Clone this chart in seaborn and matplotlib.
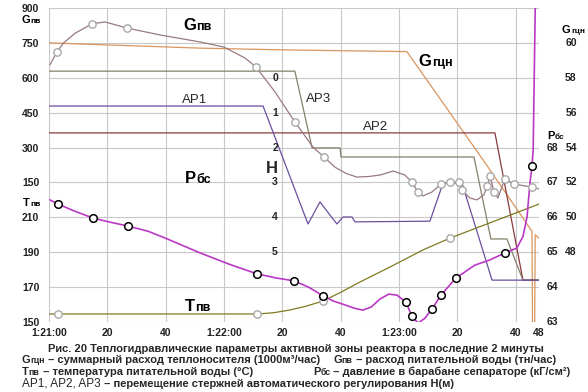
import numpy as np
import pandas as pd
import matplotlib
matplotlib.use("Agg")
import matplotlib.pyplot as plt
import seaborn as sns

# ---------------- data (time: seconds after 1:21:00) ----------------
# Feedwater flow G_пв (t/h)
gpv_t = [0.3, 2.7, 5.0, 8.9, 14.7, 19.2, 26.7, 38.1, 51.8, 60.0, 67.2, 71.0, 77.5, 84.3, 90.5, 94.3, 98.0,
         102.0, 105.6, 110.0, 113.5, 118.0, 122.0, 124.4, 126.5, 128.2, 131.3, 134.4, 137.5, 140.6, 141.6, 144.3,
         146.7, 149.1, 150.2, 151.2, 152.6, 153.9, 156.3, 159.4, 165.6, 168.0]
gpv_v = [655, 711, 750, 791, 832, 840, 814, 784, 754, 732, 685, 646, 539, 410, 302, 259, 216,
         188, 173, 176, 182, 199, 182, 152, 109, 92, 109, 143, 152, 152, 117, 83,
         75, 96, 134, 178, 109, 83, 165, 143, 130, 122]
gpv_mk_t = [2.7, 14.7, 26.7, 71.0, 84.3, 94.3, 124.4, 126.5, 134.4, 137.5, 140.6, 141.6, 150.2,
            151.2, 152.6, 156.3, 159.4, 165.6]
gpv_mk_v = [711, 832, 814, 646, 410, 259, 152, 109, 143, 152, 152, 117, 134, 178, 109, 165, 143, 130]

# Main circulation pump flow G_гцн (1000 m3/h)
ggcn_t = [0, 51.8, 80.0, 122.7, 148.8, 165.6, 165.8, 166.5, 166.7, 168.0]
ggcn_v = [60.0, 59.7, 59.6, 59.5, 53.3, 49.2, 43.0, 43.0, 49.0, 48.8]

# Control rods position H (m)
ap1_t = [0, 73.4, 88.8, 92.9, 98.7, 100.8, 103.9, 104.9, 130.6, 135.1, 141.6, 151.9, 168.0]
ap1_v = [0.81, 0.81, 4.19, 3.56, 4.19, 3.99, 3.99, 4.13, 4.11, 3.02, 3.02, 5.80, 5.80]
ap2_t = [0, 152.9, 162.5, 168.0]
ap2_v = [1.58, 1.58, 5.80, 5.80]
ap3_t = [0, 84.3, 90.2, 99.8, 100.1, 145.7, 151.5, 157.0, 162.5, 168.0]
ap3_v = [-0.19, -0.19, 2.01, 2.01, 2.27, 2.27, 4.62, 4.62, 5.80, 5.80]

# Drum separator pressure P_бс (kgf/cm2)
pbs_t = [0.3, 3.1, 9.0, 15.1, 21.0, 27.1, 34.0, 40.0, 51.8, 62.0, 71.3, 78.0, 84.0, 89.0, 93.9, 97.5,
         101.5, 104.5, 107.6, 110.5, 113.5, 116.5, 119.3, 122.4, 124.4, 126.5, 128.8, 131.3, 134.4,
         139.5, 146.0, 151.2, 156.3, 160.4, 162.5, 163.9, 164.9, 165.6, 166.0, 166.8]
pbs_v = [66.50, 66.38, 66.17, 65.98, 65.86, 65.75, 65.60, 65.40, 64.98, 64.65, 64.38, 64.26, 64.18,
         64.00, 63.75, 63.60, 63.49, 63.40, 63.34, 63.43, 63.66, 63.80, 63.77, 63.57,
         63.17, 62.97, 63.10, 63.37, 63.77, 64.26, 64.63, 64.78, 64.98, 65.12, 65.45, 66.01,
         66.98, 67.47, 67.93, 72.5]
pbs_mk_t = [3.1, 15.1, 27.1, 71.3, 84.0, 93.9, 122.4, 124.4, 131.3, 134.4, 139.5, 156.3, 165.6]
pbs_mk_v = [66.38, 65.98, 65.75, 64.38, 64.18, 63.75, 63.57, 63.17, 63.37, 63.77, 64.26, 64.98, 67.47]

# Feedwater temperature T_пв (°C)
tpv_t = [0, 3.1, 71.3, 77.0, 82.6, 88.0, 93.9, 100.0, 106.6, 116.9, 128.2, 137.5, 168.0]
tpv_v = [154.6, 154.6, 154.6, 155.3, 156.9, 159.0, 162.0, 167.0, 172.9, 181.5, 191.3, 198.1, 217.6]
tpv_mk_t = [3.1, 71.3, 93.9, 137.5]
tpv_mk_v = [154.6, 154.6, 162.0, 198.1]

# axis tick labels
x_ticks = [0, 20, 40, 60, 80, 100, 120, 140, 160, 168]
x_labels = ["1:21:00", "20", "40", "1:22:00", "20", "40", "1:23:00", "20", "40", "48"]
left_labels = ["150", "170", "190", "210", "150", "300", "450", "600", "750", "900"]
pbs_labels = ["63", "64", "65", "66", "67", "68"]
ggcn_labels = ["48", "50", "52", "54", "56", "58", "60"]
h_labels = ["0", "1", "2", "3", "4", "5"]

# ---------------- scale conversions to common grid units (0..9) ----------------
def u_gpv(v): return np.asarray(v) / 150.0 + 3
def u_tpv(v): return (np.asarray(v) - 150.0) / 20.0
def u_pbs(v): return np.asarray(v) - 63.0
def u_ggcn(v): return (np.asarray(v) - 44.0) / 2.0
def u_h(v): return 7.0 - np.asarray(v)

sns.set_theme(style="white")
plt.rcParams["font.family"] = ["Liberation Sans", "DejaVu Sans"]

fig = plt.figure(figsize=(5.88, 3.92), dpi=100)
ax = fig.add_axes([49 / 588, 1 - 322 / 392, 490 / 588, 314 / 392])

colors = {
    "Gгцн": "#d9955e",
    "AP2": "#8b3b3b",
    "AP3": "#85806a",
    "AP1": "#6b4f9e",
    "Tпв": "#7f7a1f",
    "Gпв": "#997a80",
    "Pбс": "#bb38c6",
}

frames = []
for name, t, u in [
    ("Gгцн", ggcn_t, u_ggcn(ggcn_v)),
    ("AP2", ap2_t, u_h(ap2_v)),
    ("AP3", ap3_t, u_h(ap3_v)),
    ("AP1", ap1_t, u_h(ap1_v)),
    ("Tпв", tpv_t, u_tpv(tpv_v)),
    ("Gпв", gpv_t, u_gpv(gpv_v)),
    ("Pбс", pbs_t, u_pbs(pbs_v)),
]:
    frames.append(pd.DataFrame({"t": t, "u": u, "s": name}))
df = pd.concat(frames, ignore_index=True)

sns.lineplot(data=df, x="t", y="u", hue="s", palette=colors, sort=False,
             estimator=None, legend=False, ax=ax, linewidth=0.9)
for line in ax.get_lines():
    line.set_solid_joinstyle("round")
    if line.get_color() == "#bb38c6":
        line.set_linewidth(1.2)

sns.scatterplot(x=gpv_mk_t, y=u_gpv(gpv_mk_v), ax=ax, s=28, facecolor="white",
                edgecolor="#a8a8a8", linewidth=1.0, zorder=5)
sns.scatterplot(x=tpv_mk_t, y=u_tpv(tpv_mk_v), ax=ax, s=28, facecolor="white",
                edgecolor="#a8a8a8", linewidth=1.0, zorder=5)
sns.scatterplot(x=pbs_mk_t, y=u_pbs(pbs_mk_v), ax=ax, s=30, facecolor="white",
                edgecolor="black", linewidth=1.1, zorder=6)

ax.set_xlim(0, 168)
ax.set_ylim(0, 9)
ax.set_xticks(x_ticks)
ax.set_xticklabels(x_labels, fontsize=7.5, fontweight="bold", color="#222222")
ax.set_yticks(range(10))
ax.set_yticklabels(left_labels, fontsize=7.5, fontweight="bold", color="#222222")
ax.tick_params(axis="both", length=0, pad=4)
ax.tick_params(axis="y", pad=7)
ax.grid(True, color="#c8c8c8", linewidth=0.8)
ax.set_axisbelow(True)
for sp in ax.spines.values():
    sp.set_visible(False)
ax.set_xlabel("")
ax.set_ylabel("")

yt = ax.get_yaxis_transform()


def px_x(p):  # figure pixel x -> axes fraction
    return (p - 49) / 490.0


def mixed(x, y, big, small, bs, ss, transform, weight="bold"):
    t1 = ax.text(x, y, big, fontsize=bs, fontweight=weight, ha="left",
                 va="baseline", transform=transform, color="black")
    ax.annotate(small, xy=(1, 0.22), xycoords=t1, xytext=(0.3, 0),
                textcoords="offset points", fontsize=ss, fontweight=weight,
                ha="left", va="baseline", color="black")


# right side scales
for i, lab in enumerate(pbs_labels):
    ax.text(px_x(552), i, lab, transform=yt, ha="center", va="center",
            fontsize=7.5, fontweight="bold", color="#222222")
for i, lab in enumerate(ggcn_labels):
    ax.text(px_x(571), i + 2, lab, transform=yt, ha="center", va="center",
            fontsize=7.5, fontweight="bold", color="#222222")
mixed(px_x(562), 8.27, "G", "гцн", 8, 6, yt)
mixed(px_x(547), 5.25, "P", "бс", 8, 6, yt)
# left extra labels
mixed(px_x(21), 8.56, "G", "пв", 8, 6, yt)
mixed(px_x(23), 3.33, "T", "пв", 8, 6, yt)

# H scale inside plot
for i, lab in enumerate(h_labels):
    ax.text(77.5, 7 - i, lab, ha="center", va="center", fontsize=7.5,
            fontweight="bold", color="#222222")
ax.text(74.4, 4.27, "H", fontsize=12, fontweight="bold", ha="left", va="baseline")

# series labels
mixed(45.9, 8.37, "G", "пв", 12, 9, ax.transData)
mixed(126.8, 7.34, "G", "гцн", 12, 9, ax.transData)
mixed(46.6, 3.98, "P", "бс", 12, 9, ax.transData)
mixed(46.6, 0.315, "T", "пв", 12, 9, ax.transData)
ax.text(45.6, 6.28, "AP1", fontsize=9.5, ha="left", va="baseline")
ax.text(88.1, 6.31, "AP3", fontsize=9.5, ha="left", va="baseline")
ax.text(107.6, 5.50, "AP2", fontsize=9.5, ha="left", va="baseline")

# caption
cap_fs = 8.0
sub_fs = 6.3


def chain(x_px, y_px, segments):
    last = None
    for txt, fs, wt in segments:
        if last is None:
            last = fig.text(x_px / 588, 1 - y_px / 392, txt, ha="left", va="baseline",
                            fontsize=fs, fontweight=wt)
        else:
            last = fig.add_artist(matplotlib.text.Annotation(
                txt, xy=(1, 0), xycoords=last, ha="left", va="bottom",
                fontsize=fs, fontweight=wt, annotation_clip=False))


fig.text(0.503, 1 - 349 / 392,
         "Рис. 20 Теплогидравлические параметры активной зоны реактора в последние 2 минуты",
         ha="center", va="center", fontsize=cap_fs, fontweight="bold")
chain(22, 363, [("G", cap_fs, "bold"), ("гцн", sub_fs, "bold"),
                (" – суммарный расход теплоносителя (1000м³/час)", cap_fs, "bold")])
chain(333, 363, [("G", cap_fs, "bold"), ("пв", sub_fs, "bold"),
                 (" – расход питательной воды (тн/час)", cap_fs, "bold")])
chain(22, 375, [("T", cap_fs, "bold"), ("пв", sub_fs, "bold"),
                (" – температура питательной воды (°С)", cap_fs, "bold")])
chain(313, 375, [("P", cap_fs, "bold"), ("бс", sub_fs, "bold"),
                 (" – давление в барабане сепараторе (кГ/см²)", cap_fs, "bold")])
chain(22, 386, [("AP1, AP2, AP3", 8.5, "normal"),
                (" – перемещение стержней автоматического регулирования H(м)", cap_fs, "bold")])

fig.savefig("out.png", dpi=100, facecolor="white")
